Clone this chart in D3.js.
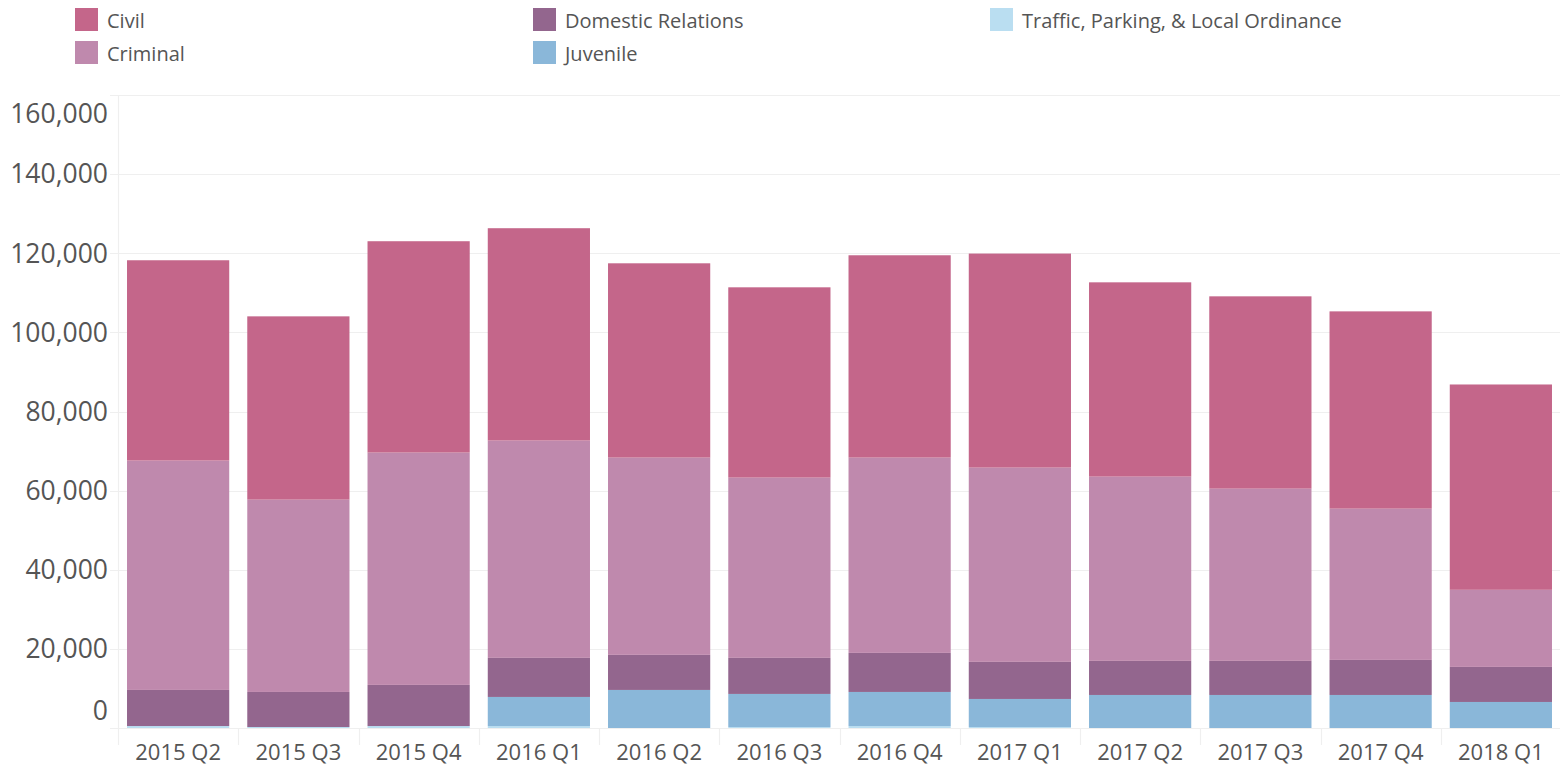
<!DOCTYPE html>
<html>
<head>
<meta charset="utf-8">
<script src="https://cdn.jsdelivr.net/npm/d3@7"></script>
<style>
  html, body { margin: 0; padding: 0; background: #fff; }
  svg { display: block; }
  text { font-family: "Open Sans", sans-serif; }
</style>
</head>
<body>
<svg id="chart" width="1560" height="767"></svg>
<script>
const quarters = ["2015 Q2","2015 Q3","2015 Q4","2016 Q1","2016 Q2","2016 Q3","2016 Q4","2017 Q1","2017 Q2","2017 Q3","2017 Q4","2018 Q1"];
const seriesNames = ["Traffic, Parking, & Local Ordinance","Juvenile","Domestic Relations","Criminal","Civil"];
const traffic   = [500, 250, 500, 500, 0, 250, 500, 250, 0, 0, 0, 0];
const juvenile  = [0, 0, 0, 7350, 9620, 8360, 8610, 7090, 8350, 8350, 8350, 6580];
const domestic  = [9120, 8860, 10390, 9870, 8860, 9110, 9870, 9370, 8610, 8610, 8860, 8860];
const criminal  = [57980, 48610, 58730, 54940, 49870, 45570, 49370, 49110, 46580, 43540, 38230, 19490];
const civil     = [50630, 46330, 53420, 53670, 49110, 48100, 51140, 54100, 49110, 48610, 49870, 51900];
const yTicks = [0, 20000, 40000, 60000, 80000, 100000, 120000, 140000, 160000];
const legendOrder = ["Civil","Criminal","Domestic Relations","Juvenile","Traffic, Parking, & Local Ordinance"];

const colors = {
  "Civil": "#c4668a",
  "Criminal": "#bf89ad",
  "Domestic Relations": "#93668e",
  "Juvenile": "#8ab7d9",
  "Traffic, Parking, & Local Ordinance": "#badef1"
};

const valuesBySeries = {
  "Traffic, Parking, & Local Ordinance": traffic,
  "Juvenile": juvenile,
  "Domestic Relations": domestic,
  "Criminal": criminal,
  "Civil": civil
};

const rows = quarters.map((q, i) => {
  const r = { quarter: q };
  seriesNames.forEach(s => r[s] = valuesBySeries[s][i]);
  return r;
});

const svg = d3.select("#chart");

const x = d3.scaleBand().domain(quarters).range([118, 1561]).paddingInner(0.15).paddingOuter(0.075);
const y = d3.scaleLinear().domain([0, 160000]).range([728, 95]);

// gridlines
const grid = svg.append("g");
grid.selectAll("line").data(yTicks).join("line")
  .attr("x1", 110).attr("x2", 1560)
  .attr("y1", d => Math.round(y(d)) + 0.5).attr("y2", d => Math.round(y(d)) + 0.5)
  .attr("stroke", "#efefef").attr("stroke-width", 1.2);

// vertical axis line
svg.append("line").attr("x1", 118.5).attr("x2", 118.5).attr("y1", 95).attr("y2", 745)
  .attr("stroke", "#efefef").attr("stroke-width", 1.2);

// x separators
const step = x.step();
const bounds = quarters.map((q, i) => x.range()[0] + step * i).concat([x.range()[0] + step * quarters.length]);
svg.append("g").selectAll("line").data(bounds.slice(1)).join("line")
  .attr("x1", d => Math.round(d) + 0.5).attr("x2", d => Math.round(d) + 0.5)
  .attr("y1", 728).attr("y2", 745)
  .attr("stroke", "#efefef").attr("stroke-width", 1.2);

// stacked bars
const stack = d3.stack().keys(seriesNames);
const layers = stack(rows);
svg.append("g").selectAll("g").data(layers).join("g")
  .attr("fill", d => colors[d.key])
  .selectAll("rect").data(d => d).join("rect")
  .attr("x", d => x(d.data.quarter))
  .attr("width", x.bandwidth())
  .attr("y", d => y(d[1]))
  .attr("height", d => Math.max(0, y(d[0]) - y(d[1])));

// y axis labels
const fmt = d3.format(",");
svg.append("g").selectAll("text").data(yTicks).join("text")
  .attr("x", 108)
  .attr("y", d => d === 160000 ? y(d) + 19 : (d === 0 ? y(d) - 17 : y(d)))
  .attr("dy", "0.35em")
  .attr("text-anchor", "end")
  .attr("font-size", 26.5)
  .attr("fill", "#555")
  .text(d => fmt(d));

// x axis labels
svg.append("g").selectAll("text").data(quarters).join("text")
  .attr("x", d => x(d) + x.bandwidth() / 2)
  .attr("y", 752)
  .attr("dy", "0.35em")
  .attr("text-anchor", "middle")
  .attr("font-size", 22)
  .attr("fill", "#555")
  .text(d => d);

// legend
const legendPos = {
  "Civil": [75, 8],
  "Criminal": [75, 41],
  "Domestic Relations": [533, 8],
  "Juvenile": [533, 41],
  "Traffic, Parking, & Local Ordinance": [990, 8]
};
const lg = svg.append("g").selectAll("g").data(legendOrder).join("g")
  .attr("transform", d => `translate(${legendPos[d][0]},${legendPos[d][1]})`);
lg.append("rect").attr("width", 23).attr("height", 23).attr("fill", d => colors[d]);
lg.append("text").attr("x", 32).attr("y", 12.5).attr("dy", "0.35em")
  .attr("font-size", 20).attr("fill", "#555").text(d => d);
</script>
</body>
</html>
